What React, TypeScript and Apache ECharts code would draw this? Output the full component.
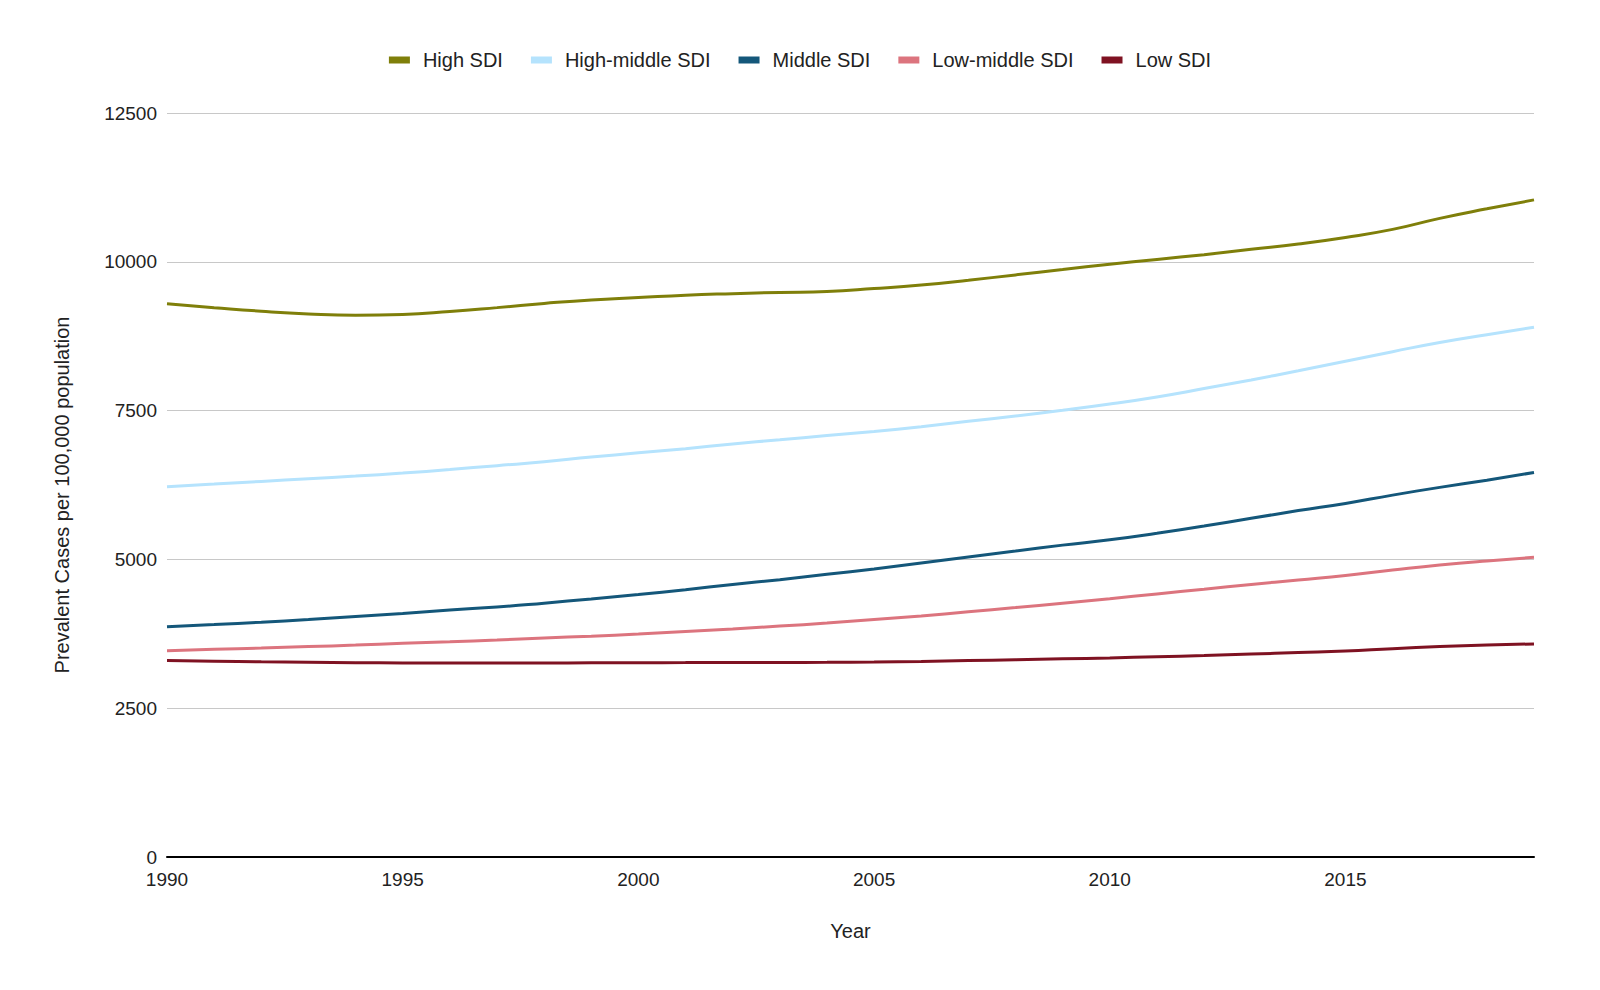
import React, { useEffect, useRef } from 'react';
import * as echarts from 'echarts';

const years = [
  1990, 1991, 1992, 1993, 1994, 1995, 1996, 1997, 1998, 1999,
  2000, 2001, 2002, 2003, 2004, 2005, 2006, 2007, 2008, 2009,
  2010, 2011, 2012, 2013, 2014, 2015, 2016, 2017, 2018, 2019,
];

const highSDI = [
  9295, 9230, 9170, 9125, 9103, 9115, 9165, 9230, 9300, 9360,
  9400, 9440, 9465, 9485, 9500, 9550, 9610, 9690, 9780, 9870,
  9960, 10040, 10120, 10210, 10300, 10410, 10545, 10730, 10890, 11040,
];

const highMiddleSDI = [
  6220, 6265, 6310, 6355, 6400, 6450, 6510, 6575, 6640, 6720,
  6790, 6860, 6940, 7010, 7080, 7150, 7230, 7320, 7410, 7505,
  7610, 7730, 7870, 8015, 8170, 8330, 8490, 8645, 8775, 8900,
];

const middleSDI = [
  3868, 3905, 3945, 3990, 4040, 4090, 4150, 4200, 4265, 4335,
  4410, 4490, 4580, 4660, 4750, 4840, 4940, 5040, 5140, 5240,
  5330, 5440, 5560, 5690, 5820, 5940, 6080, 6210, 6330, 6460,
];

const lowMiddleSDI = [
  3465, 3490, 3510, 3535, 3560, 3590, 3615, 3645, 3680, 3710,
  3745, 3790, 3830, 3880, 3930, 3990, 4050, 4120, 4190, 4265,
  4340, 4420, 4500, 4580, 4655, 4730, 4820, 4905, 4975, 5035,
];

const lowSDI = [
  3300, 3290, 3280, 3272, 3265, 3260, 3258, 3258, 3260, 3262,
  3265, 3266, 3267, 3268, 3270, 3275, 3285, 3300, 3315, 3330,
  3345, 3365, 3385, 3410, 3435, 3460, 3500, 3535, 3560, 3580,
];

const seriesNames = ['High SDI', 'High-middle SDI', 'Middle SDI', 'Low-middle SDI', 'Low SDI'];
const seriesValues = [highSDI, highMiddleSDI, middleSDI, lowMiddleSDI, lowSDI];
const colors = ['#7f7f0a', '#b5e3fd', '#14577a', '#dc747e', '#7f1222'];

const font = "'Liberation Sans', Arial, sans-serif";
const fontSize = 19;
const titleSize = 20;
const textColor = '#222';

export default function App() {
  const chartRef = useRef<HTMLDivElement>(null);

  useEffect(() => {
    document.body.style.margin = '0';
    if (!chartRef.current) return;
    const chart = echarts.init(chartRef.current, undefined, { renderer: 'svg' });

    const option = {
      animation: false,
      color: colors,
      textStyle: { fontFamily: font },
      legend: {
        top: 45,
        left: 'center',
        icon: 'rect',
        itemWidth: 21,
        itemHeight: 7,
        itemGap: 28,
        textStyle: { fontSize: titleSize, color: textColor, fontFamily: font, padding: [0, 0, 0, 8] },
        data: seriesNames,
      },
      grid: { left: 167, right: 66, top: 113, bottom: 133, containLabel: false },
      // y-axis title, drawn by hand so it can sit a little below the grid centre
      graphic: [
        {
          type: 'text',
          x: 62,
          y: 495,
          rotation: Math.PI / 2,
          style: {
            text: 'Prevalent Cases per 100,000 population',
            font: `${titleSize}px ${font}`,
            fill: textColor,
            textAlign: 'center',
            textVerticalAlign: 'middle',
          },
        },
      ],
      xAxis: {
        type: 'value',
        min: 1990,
        max: 2019,
        interval: 5,
        name: 'Year',
        nameLocation: 'middle',
        nameGap: 64,
        nameTextStyle: { fontSize: titleSize, color: textColor, fontFamily: font },
        axisLine: { show: true, lineStyle: { color: '#000', width: 2 } },
        axisTick: { show: false },
        splitLine: { show: false },
        axisLabel: {
          fontSize,
          color: textColor,
          margin: 13,
          fontFamily: font,
          showMaxLabel: false,
          formatter: (v: number) => (v % 5 === 0 ? String(v) : ''),
        },
      },
      yAxis: {
        type: 'value',
        min: 0,
        max: 12500,
        interval: 2500,
        axisLine: { show: false },
        axisTick: { show: false },
        splitLine: { lineStyle: { color: '#c8c8c8', width: 1 } },
        axisLabel: {
          fontSize,
          color: textColor,
          margin: 10,
          fontFamily: font,
          formatter: (v: number) => String(v),
        },
      },
      series: seriesNames.map((name, i) => ({
        name,
        type: 'line',
        smooth: true,
        showSymbol: false,
        symbol: 'none',
        lineStyle: { width: 3, color: colors[i] },
        itemStyle: { color: colors[i] },
        data: years.map((y, j) => [y, seriesValues[i][j]]),
        z: 10 - i,
      })),
    };

    chart.setOption(option);
    return () => {
      chart.dispose();
    };
  }, []);

  return <div ref={chartRef} style={{ width: '1600px', height: '990px' }} />;
}
